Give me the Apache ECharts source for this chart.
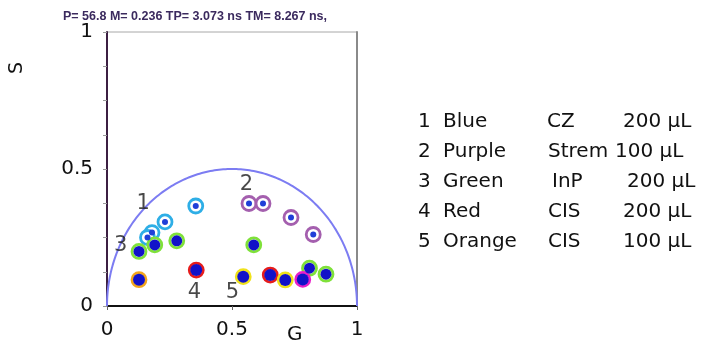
<!DOCTYPE html>
<html><head><meta charset="utf-8">
<script src="https://cdn.jsdelivr.net/npm/echarts@6/dist/echarts.min.js"></script>
<style>html,body{margin:0;padding:0;background:#fff}#c{width:701px;height:341px}</style>
</head><body><div id="c"></div>
<script>
// ---- data ----
const titleText = 'P= 56.8 M= 0.236 TP= 3.073 ns TM= 8.267 ns,';
const xAxisName = 'G';
const yAxisName = 'S';
const axisMin = 0, axisMax = 1, labelStep = 0.5;

const blueG = [0.355, 0.232, 0.180, 0.162];
const blueS = [0.365, 0.307, 0.268, 0.250];
const purpleG = [0.568, 0.624, 0.736, 0.825];
const purpleS = [0.374, 0.374, 0.323, 0.261];
const greenG = [0.128, 0.191, 0.279, 0.587, 0.810, 0.876];
const greenS = [0.199, 0.223, 0.238, 0.223, 0.138, 0.116];
const redG = [0.357, 0.653];
const redS = [0.131, 0.113];
const orangeG = [0.128];
const orangeS = [0.096];
const yellowG = [0.545, 0.713];
const yellowS = [0.107, 0.095];
const magentaG = [0.783];
const magentaS = [0.097];

const groupNums = ['1', '2', '3', '4', '5'];
const groupLabelG = [0.145, 0.558, 0.055, 0.350, 0.502];
const groupLabelS = [0.375, 0.443, 0.222, 0.049, 0.049];

const legendNums = ['1', '2', '3', '4', '5'];
const legendNames = ['Blue', 'Purple', 'Green', 'Red', 'Orange'];
const legendMaterials = ['CZ', 'Strem', 'InP', 'CIS', 'CIS'];
const legendVolumes = ['200 μL', '100 μL', '200 μL', '200 μL', '100 μL'];

// ---- build ----
function pts(g, s) { return g.map((v, i) => [v, s[i]]); }
const groups = [
  {g: blueG, s: blueS, ring: '#2eaee6', inner: 6, innerColor: '#1f3fd8'},
  {g: purpleG, s: purpleS, ring: '#a45fae', inner: 6, innerColor: '#1f3fd8'},
  {g: greenG, s: greenS, ring: '#7fe13a', inner: 11, innerColor: '#1212c8'},
  {g: redG, s: redS, ring: '#e61c1c', inner: 12, innerColor: '#1212c8'},
  {g: orangeG, s: orangeS, ring: '#f2a51c', inner: 12, innerColor: '#1212c8'},
  {g: yellowG, s: yellowS, ring: '#f0e21a', inner: 12, innerColor: '#1212c8'},
  {g: magentaG, s: magentaS, ring: '#e81fc8', inner: 12, innerColor: '#1212c8'}
];

const series = [];
// universal semicircle (reference geometry)
series.push({
  type: 'custom', silent: true, z: 1,
  data: [[0]],
  renderItem: function (params, api) {
    const p = [];
    for (let i = 0; i <= 180; i++) {
      const a = Math.PI * i / 180;
      p.push(api.coord([0.5 + 0.5 * Math.cos(a), 0.5 * Math.sin(a)]));
    }
    return {type: 'polyline', shape: {points: p}, style: {stroke: '#7c7cf2', lineWidth: 2, fill: null}};
  }
});
groups.forEach(gr => {
  series.push({
    type: 'scatter', z: 3, symbol: 'circle', symbolSize: 14,
    data: pts(gr.g, gr.s),
    itemStyle: {color: '#ffffff', borderColor: gr.ring, borderWidth: 2.8, opacity: 1}
  });
  series.push({
    type: 'scatter', z: 4, symbol: 'circle', symbolSize: gr.inner,
    data: pts(gr.g, gr.s),
    itemStyle: {color: gr.innerColor, opacity: 1}
  });
});
series.push({
  type: 'scatter', z: 5, symbolSize: 0, silent: true,
  data: groupNums.map((n, i) => ({value: [groupLabelG[i], groupLabelS[i]], name: n})),
  label: {show: true, position: 'inside', formatter: p => p.name,
    fontFamily: 'DejaVu Sans', fontSize: 21, color: '#1a1a1a'}
});

const legendX = [418, 443, 547, 623];
const materialDX = [0, 1, 5, 1, 1];
const volumeDX = [0, -8, 4, 0, 0];
const graphic = [
  {type: 'text', left: 8, top: 62, rotation: Math.PI / 2,
    style: {text: yAxisName, fontFamily: 'DejaVu Sans', fontSize: 19, fill: '#111'}},
  {type: 'text', left: 287, top: 325,
    style: {text: xAxisName, fontFamily: 'DejaVu Sans', fontSize: 20, fill: '#111'}}
];
legendNums.forEach((n, i) => {
  const y = 122 + 30 * i;
  const cols = [n, legendNames[i], legendMaterials[i], legendVolumes[i]];
  const xs = [legendX[0], legendX[1], legendX[2] + materialDX[i], legendX[3] + volumeDX[i]];
  cols.forEach((t, j) => {
    graphic.push({type: 'text', x: xs[j], y: y,
      style: {text: t, fontFamily: 'DejaVu Sans', fontSize: 20, fill: '#111',
        textVerticalAlign: 'middle', verticalAlign: 'middle'}});
  });
});

const chart = echarts.init(document.getElementById('c'), null, {renderer: 'canvas'});
chart.setOption({
  animation: false,
  backgroundColor: '#ffffff',
  title: {text: titleText, left: 58, top: 5,
    textStyle: {fontFamily: 'Liberation Sans', fontSize: 12.5, fontWeight: 'bold', color: '#3b2a5e'}},
  grid: {left: 107, right: 344, top: 32, bottom: 35, show: true, borderColor: '#a8a8a8', borderWidth: 1},
  xAxis: {
    type: 'value', min: axisMin, max: axisMax, interval: labelStep,
    axisLine: {lineStyle: {color: '#111', width: 2}},
    axisTick: {show: true, length: 4, lineStyle: {color: '#666'}},
    splitLine: {show: false},
    axisLabel: {fontFamily: 'DejaVu Sans', fontSize: 20, color: '#111', margin: 14,
      formatter: v => String(v)}
  },
  yAxis: [{
    type: 'value', min: axisMin, max: axisMax, interval: labelStep,
    axisLine: {lineStyle: {color: '#3c1f42', width: 2}},
    axisTick: {show: true, length: 4, lineStyle: {color: '#999'}},
    minorTick: {show: true, splitNumber: 4, length: 4, lineStyle: {color: '#999'}},
    splitLine: {show: false},
    axisLabel: {fontFamily: 'DejaVu Sans', fontSize: 20, color: '#111', margin: 14,
      formatter: v => String(v)}
  }, {
    type: 'value', min: axisMin, max: axisMax, position: 'right',
    axisLine: {show: true, lineStyle: {color: '#8a8a8a', width: 2}},
    axisTick: {show: false}, axisLabel: {show: false}, splitLine: {show: false}
  }],
  graphic: graphic,
  series: series
});
</script></body></html>
